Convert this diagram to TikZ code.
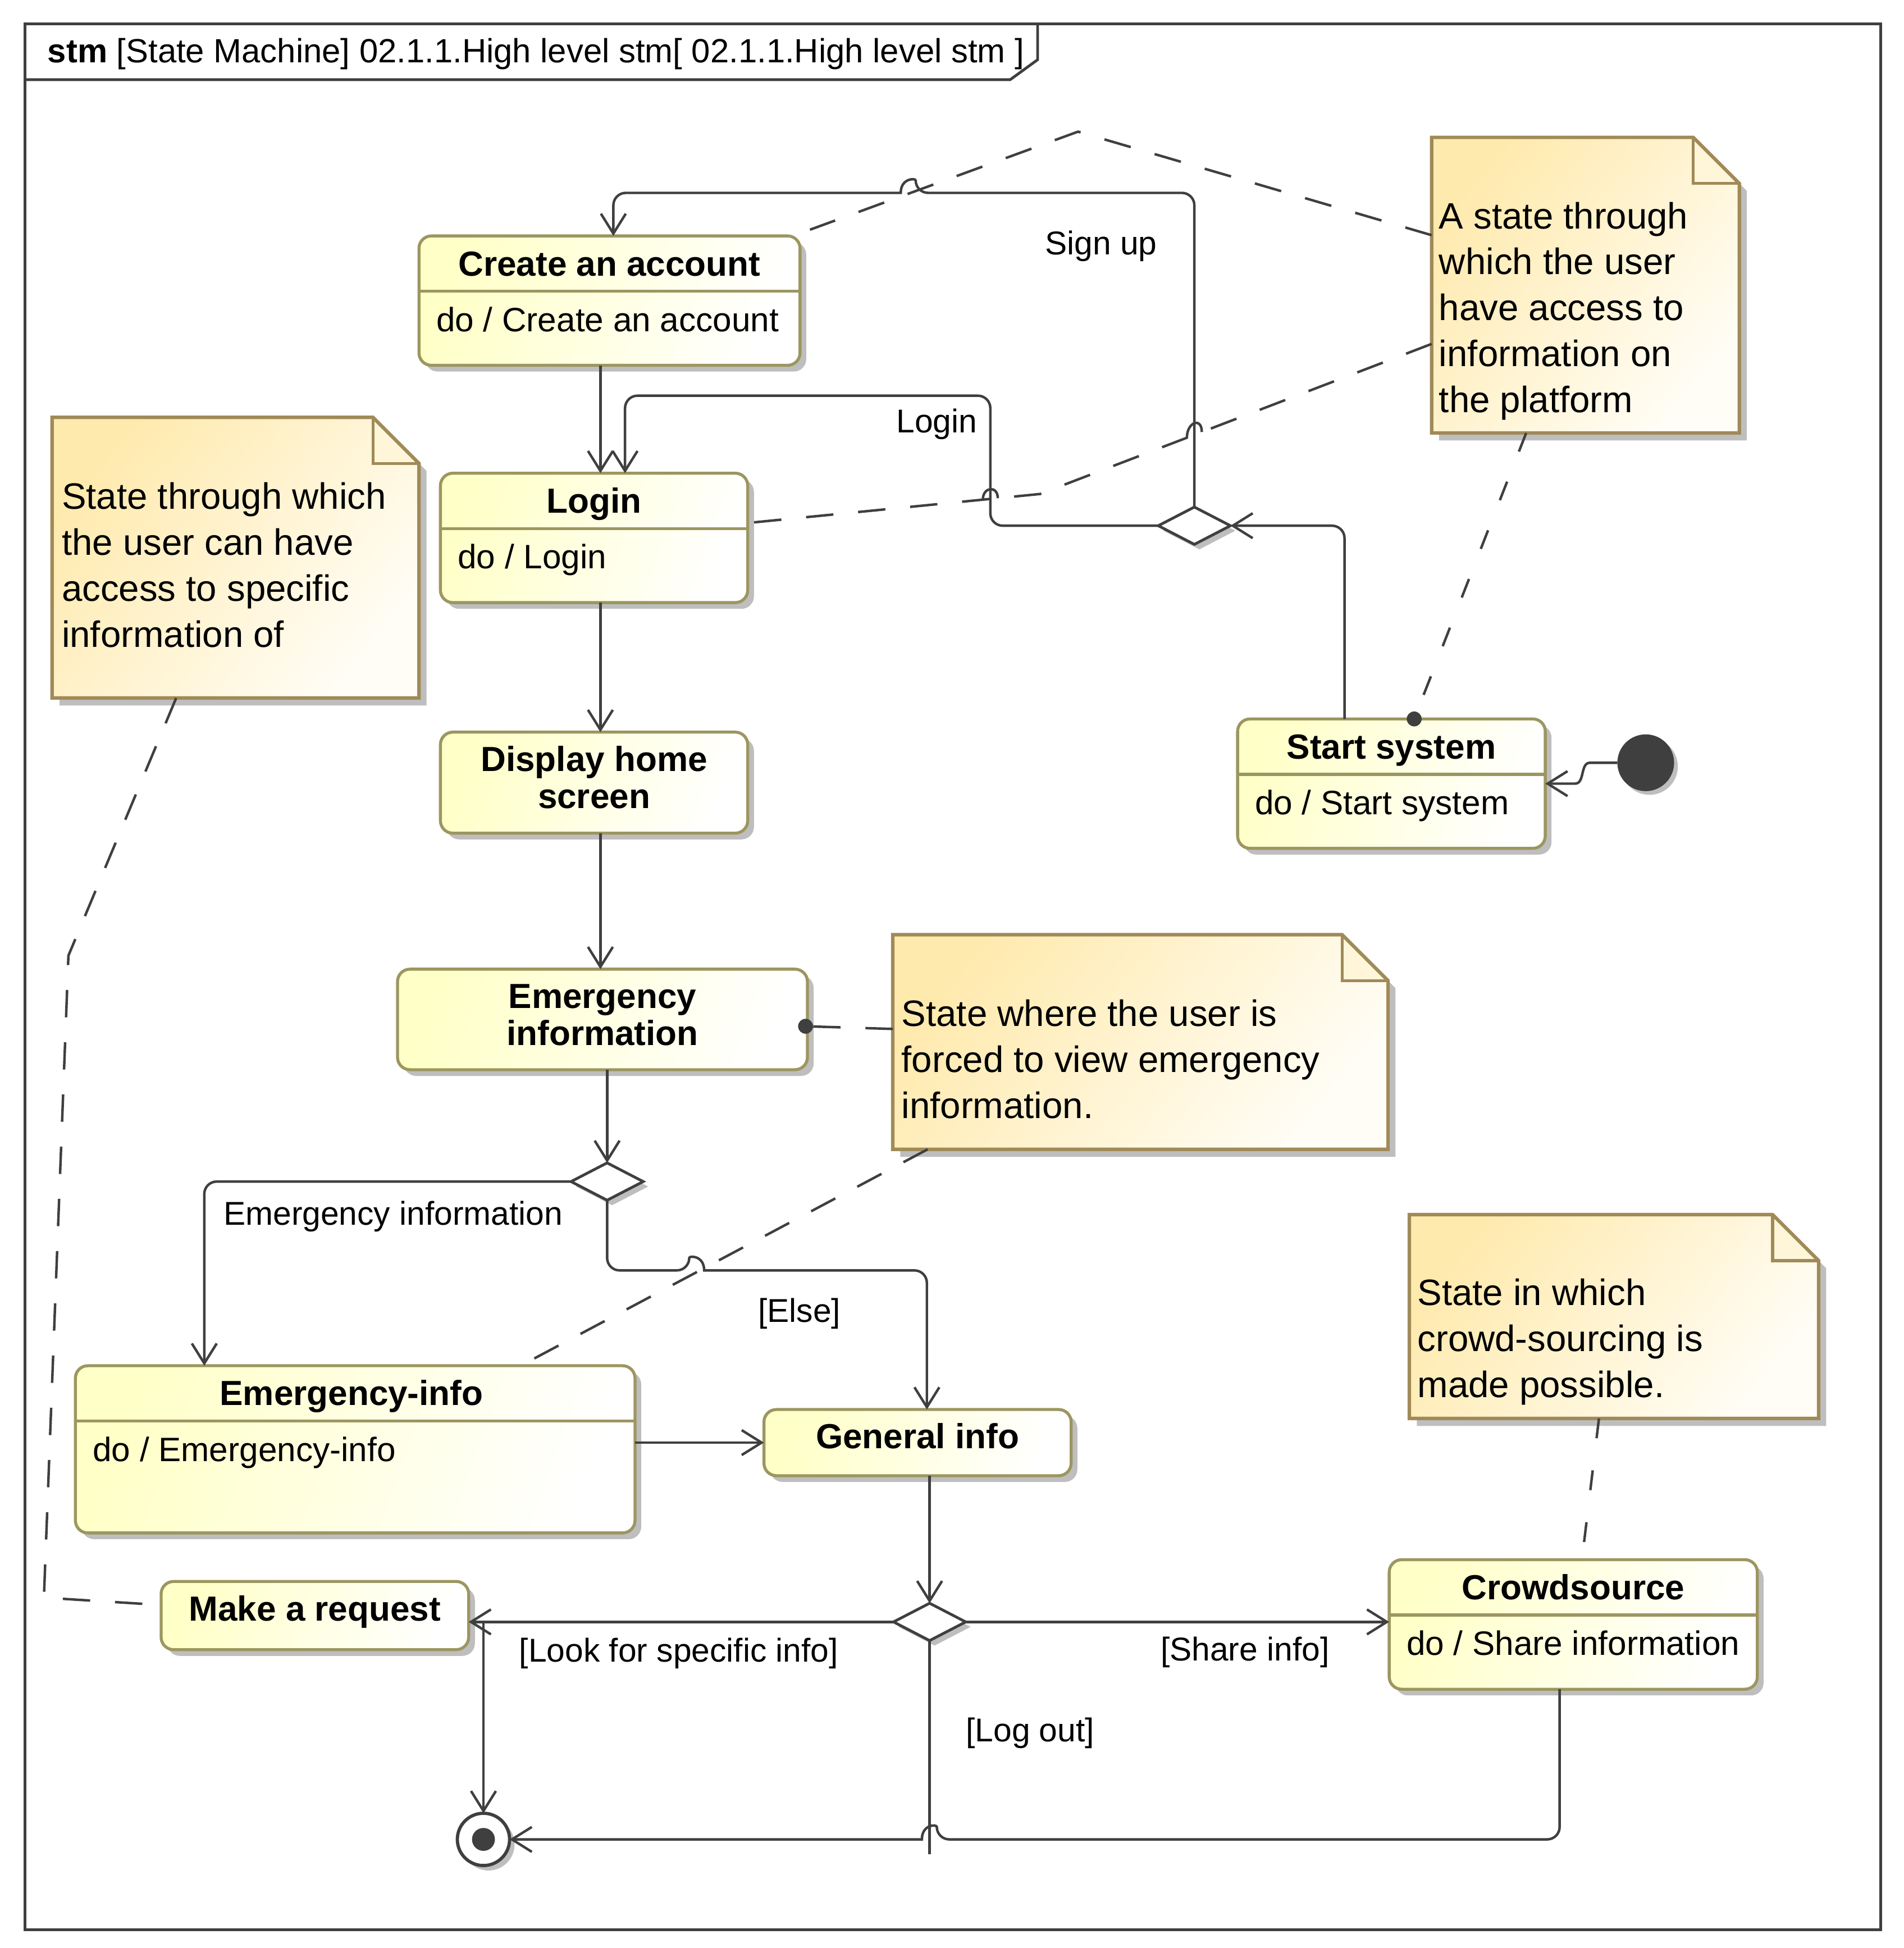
\documentclass[tikz,border=0pt]{standalone}
\usepackage{fontspec}
\setmainfont{Liberation Sans}
\usetikzlibrary{arrows.meta,calc,shadows,shapes.geometric}
\definecolor{lineC}{HTML}{3F3F3F}
\definecolor{stateB}{HTML}{9C9660}
\definecolor{stateA}{HTML}{FFFFC8}
\definecolor{noteA}{HTML}{FFEAAE}
\definecolor{noteB}{HTML}{FFFDF6}
\definecolor{noteF}{HTML}{FFF6DA}
\definecolor{noteD}{HTML}{A08A58}
\definecolor{shadowC}{HTML}{BEBEBE}
\newcommand{\NoteShape}[1]{%
  \fill[shadowC] ($(#1.north west)+(6,6)$) -- ($(#1.north east)+(-31,6)$) -- ($(#1.north east)+(6,43)$) -- ($(#1.south east)+(6,6)$) -- ($(#1.south west)+(6,6)$) -- cycle;
  \shade[top color=noteA, bottom color=noteB, shading angle=50] (#1.north west) -- ($(#1.north east)+(-37,0)$) -- ($(#1.north east)+(0,37)$) -- (#1.south east) -- (#1.south west) -- cycle;
  \filldraw[fill=noteF, draw=noteD, line width=1.2pt] ($(#1.north east)+(-37,0)$) -- ($(#1.north east)+(-37,37)$) -- ($(#1.north east)+(0,37)$);
  \draw[noteD, line width=1.4pt] (#1.north west) -- ($(#1.north east)+(-37,0)$) -- ($(#1.north east)+(0,37)$) -- (#1.south east) -- (#1.south west) -- cycle;
}
\begin{document}
\begin{tikzpicture}[x=0.5pt, y=-0.5pt,
  every node/.style={inner sep=0pt, outer sep=0pt},
  stbox/.style={draw=stateB, line width=1.2pt, rounded corners=5pt, top color=stateA, bottom color=white, shading angle=70,
    drop shadow={shadow xshift=2.5pt, shadow yshift=-2.5pt, fill=shadowC, opacity=1}},
  sdiv/.style={draw=stateB, line width=1.2pt},
  notebox/.style={rectangle},
  dec/.style={diamond, draw=lineC, line width=1.1pt, fill=white, minimum width=29pt, minimum height=15pt,
    drop shadow={shadow xshift=2pt, shadow yshift=-2pt, fill=shadowC, opacity=1}},
  sname/.style={font=\fontsize{14}{16.8}\selectfont\bfseries, text height=10pt, text depth=0pt},
  sname2/.style={font=\fontsize{14}{14.9}\selectfont\bfseries, align=center},
  sdo/.style={font=\fontsize{13.6}{16}\selectfont, text height=9.7pt, text depth=0pt, anchor=west},
  lbl/.style={font=\fontsize{13.25}{16}\selectfont, text height=9.5pt, text depth=0pt},
  ntext/.style={font=\fontsize{14.75}{18.5}\selectfont, align=left, anchor=north west},
  trans/.style={draw=lineC, line width=1pt, -{Straight Barb[length=8pt, width=10pt]}},
  plain/.style={draw=lineC, line width=1pt},
  anch/.style={draw=lineC, line width=1pt, dash pattern=on 11pt off 10pt},
  anchs/.style={draw=lineC, line width=1pt, dash pattern=on 8pt off 13pt},
]
\useasboundingbox (0,0) rectangle (1530,1565.6);

% frame
\draw[lineC, line width=1.1pt] (20,19.3) rectangle (1511.5,1551);
\draw[lineC, line width=1.1pt] (20,64) -- (812,64) -- (834,48) -- (834,19.3);
\node[anchor=west, font=\fontsize{13.5}{16}\selectfont, text height=9.7pt, text depth=0pt] (title) at (38.3,40.6)
  {\textbf{stm} [State Machine] 02.1.1.High level stm[ 02.1.1.High level stm ]};

% notes
\node[notebox, minimum width=123.65pt, minimum height=118.8pt] (n1) at (1274.35,229.2) {};
\node[notebox, minimum width=147.45pt, minimum height=112.8pt] (n2) at (189.35,448.2) {};
\node[notebox, minimum width=199.05pt, minimum height=86.25pt] (n3) at (916.65,837.45) {};
\node[notebox, minimum width=164.5pt, minimum height=81.9pt] (n4) at (1297.3,1058.1) {};
\NoteShape{n1}
\NoteShape{n2}
\NoteShape{n3}
\NoteShape{n4}
\node[ntext] (n1t) at (1156.7,162.3) {A state through\\which the user\\have access to\\information on\\the platform};
\node[ntext] (n2t) at (49.7,387.7) {State through which\\the user can have\\access to specific\\information of};
\node[ntext] (n3t) at (724.7,803.5) {State where the user is\\forced to view emergency\\information.};
\node[ntext] (n4t) at (1139.4,1027.8) {State in which\\crowd-sourcing is\\made possible.};

% states
\node[stbox, minimum width=153.15pt, minimum height=52pt] (ca) at (489.9,241.6) {};
\node[stbox, minimum width=123.5pt, minimum height=52pt] (lg) at (477.5,432.3) {};
\node[stbox, minimum width=123.5pt, minimum height=40.6pt] (dh) at (477.5,629) {};
\node[stbox, minimum width=164.75pt, minimum height=40.4pt] (ei) at (484.25,819.3) {};
\node[stbox, minimum width=224.9pt, minimum height=67.2pt] (em) at (285.5,1164.8) {};
\node[stbox, minimum width=123.45pt, minimum height=26.6pt] (gi) at (737.5,1159.4) {};
\node[stbox, minimum width=123.6pt, minimum height=27.4pt] (mr) at (253.1,1298.4) {};
\node[stbox, minimum width=147.95pt, minimum height=52.05pt] (cs) at (1264.55,1305.55) {};
\node[stbox, minimum width=123.65pt, minimum height=52pt] (ss) at (1118.4,629.8) {};

\foreach \s in {ca,lg,em,cs,ss}{
  \draw[sdiv] ($(\s.north west)+(0,44.5)$) -- ($(\s.north east)+(0,44.5)$);
}
\node[sname] (cat) at ($(ca.north)+(0,22)$) {Create an account};
\node[sdo] (cad) at ($(ca.north west)+(14,67)$) {do / Create an account};
\node[sname] (lgt) at ($(lg.north)+(0,22)$) {Login};
\node[sdo] (lgd) at ($(lg.north west)+(14,67)$) {do / Login};
\node[sname2] (dht) at ($(dh.center)+(0,-4.3)$) {Display home\\screen};
\node[sname2] (eit) at ($(ei.center)+(0,-3.4)$) {Emergency\\information};
\node[sname] (emt) at ($(em.north)+(-3,22)$) {Emergency-info};
\node[sdo] (emd) at ($(em.north west)+(14,67)$) {do / Emergency-info};
\node[sname] (git) at ($(gi.center)+(0,-5.4)$) {General info};
\node[sname] (mrt) at ($(mr.center)+(0,-5.6)$) {Make a request};
\node[sname] (cst) at ($(cs.north)+(0,22)$) {Crowdsource};
\node[sdo] (csd) at ($(cs.north west)+(14,67)$) {do / Share information};
\node[sname] (sst) at ($(ss.north)+(0,22)$) {Start system};
\node[sdo] (ssd) at ($(ss.north west)+(14,67)$) {do / Start system};

% pseudo states
\node[dec] (d1) at (960,422.5) {};
\node[dec] (d2) at (488,949.6) {};
\node[dec] (d3) at (747.2,1303.5) {};
\node[circle, fill=lineC, minimum size=22.8pt,
  drop shadow={shadow xshift=1.5pt, shadow yshift=-1.5pt, fill=shadowC, opacity=1}] (init) at (1322.8,613) {};
\node[circle, draw=lineC, line width=1.3pt, fill=white, minimum size=21pt,
  drop shadow={shadow xshift=2pt, shadow yshift=-2pt, fill=shadowC, opacity=1}] (fin) at (388.6,1478.3) {};
\fill[lineC] (fin.center) circle (4.6pt);

% anchors (dashed)
\draw[anch] ($(n1.north west)+(0,78.6)$) -- (866.5,105.8) -- ($(ca.north east)+(8,-5)$);
\draw[anch] ($(n1.north west)+(0,166)$) -- (836,397) -- ($(lg.east)+(0,-12)$);
\draw[plain] (954,351.8) .. controls (954,339) and (966,335) .. (966,347.2);
\draw[plain] (802,400.4) .. controls (802,390) and (790,391) .. (790,401.6);
\draw[anchs] ($(n1.south west)+(76,0)$) -- ($(ss.north)+(18.3,0)$);
\fill[lineC] ($(ss.north)+(18.3,0)$) circle (3pt);
\draw[anch] ($(n2.south west)+(99.7,0)$) -- (55,768) -- (35.3,1284) -- ($(mr.west)+(-8,-9)$);
\draw[anch] ($(n3.west)+(0,-10.5)$) -- ($(ei.east)+(-1.5,5.5)$);
\fill[lineC] ($(ei.east)+(-1.5,5.5)$) circle (3pt);
\draw[anch] ($(n3.south west)+(28,0)$) -- ($(em.north)+(133,0)$);
\draw[anchs] ($(n4.south west)+(152.4,0)$) -- ($(cs.north)+(7,0)$);

% transitions
\draw[trans, rounded corners=5pt] ($(ss.north)+(-37.7,0)$) |- (d1.east);
\draw[trans] (d1.north) [rounded corners=5pt] -- (960,155) -- (736,155) [sharp corners]
  .. controls (736,143) and (724,143) .. (724,155) -- (721,155) [rounded corners=5pt] -- (493,155) -- ($(ca.north)+(3.1,0)$);
\draw[trans, rounded corners=5pt] (d1.west) -| (796,318) -| ($(lg.north)+(24.9,0)$);
\draw[trans] ($(ca.south)+(-7.3,0)$) -- ($(lg.north)+(5.1,0)$);
\draw[trans] ($(lg.south)+(5.1,0)$) -- ($(dh.north)+(5.1,0)$);
\draw[trans] ($(dh.south)+(5.1,0)$) -- ($(ei.north)+(-1.65,0)$);
\draw[trans] ($(ei.south)+(3.75,0)$) -- (d2.north);
\draw[trans, rounded corners=5pt] (d2.west) -| ($(em.north)+(-121.3,0)$);
\draw[trans] (d2.south) [rounded corners=5pt] -- (488,1021) -- (554,1021) [sharp corners]
  .. controls (554,1009) and (566,1009) .. (566,1021) -- (568,1021) [rounded corners=5pt] -- (745,1021) -- ($(gi.north)+(7.5,0)$);
\draw[trans] (gi.west -| em.east) -- (gi.west);
\draw[trans] ($(gi.south)+(9.7,0)$) -- (d3.north);
\draw[trans] (d3.west) -- (d3.west -| mr.east);
\draw[trans] (d3.east) -- (d3.east -| cs.west);
\coordinate (lo) at (747.2,1490);
\draw[plain] (d3.south) -- (lo);
\draw[trans] (fin.north |- d3.west) -- (fin.north);
\draw[trans] ($(cs.south)+(-11,0)$) [rounded corners=5pt] -- (1253.6,1478.3) -- (753,1478.3) [sharp corners]
  .. controls (753,1466) and (741,1466) .. (741,1478.3) -- (fin.east);
\draw[trans] (init.west) -- (1278,613) .. controls (1270,613) and (1274,629.8) .. (1266,629.8) -- (ss.east);

% labels
\node[lbl] (l1) at (885,195) {Sign up};
\node[lbl] (l2) at (753,338) {Login};
\node[lbl] (l3) at (316,975) {Emergency information};
\node[lbl] (l4) at (642.5,1053) {[Else]};
\node[lbl] (l5) at (545.6,1326) {[Look for specific info]};
\node[lbl] (l6) at (1000.7,1325.3) {[Share info]};
\node[lbl] (l7) at (828,1390) {[Log out]};
\end{tikzpicture}
\end{document}
